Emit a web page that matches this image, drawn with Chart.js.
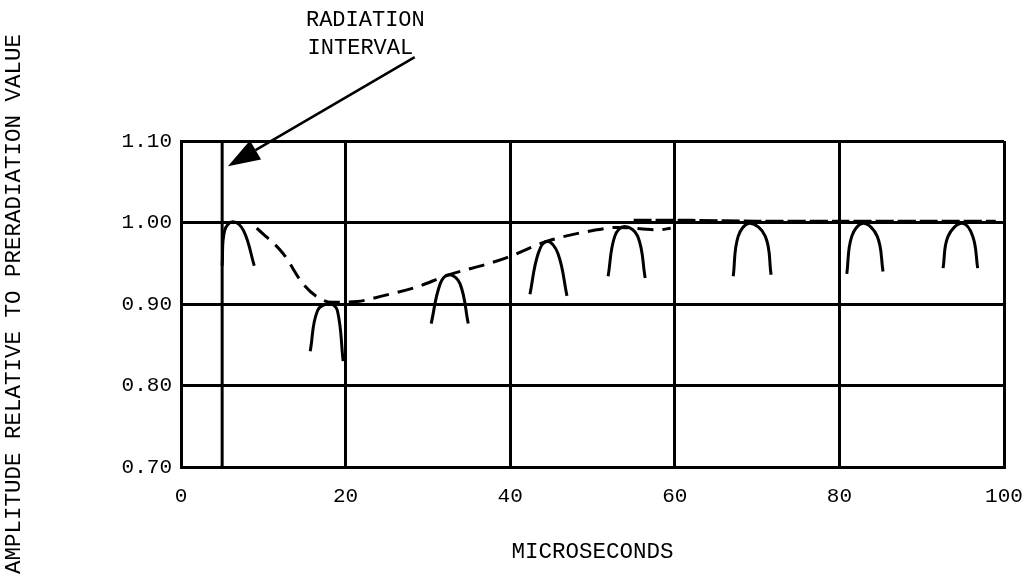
<!DOCTYPE html>
<html>
<head>
<meta charset="utf-8">
<script src="https://cdn.jsdelivr.net/npm/chart.js@4.4.1/dist/chart.umd.min.js"></script>
<style>
  html, body { margin: 0; padding: 0; background: #fff; }
  #chart { display: block; }
</style>
</head>
<body>
<canvas id="chart" width="1028" height="586"></canvas>
<script>
// axis ticks
const xTickValues = [0, 20, 40, 60, 80, 100];
const yTickLabels = ['0.70', '0.80', '0.90', '1.00', '1.10'];

// radiation interval marker (microseconds)
const radiationX = [5, 5];
const radiationY = [0.70, 1.10];

// dashed envelope through the pulse peaks
const envelopeX = [9.2, 12.4, 14.8, 16.5, 18.3, 21.4, 24.5, 28.7, 32.3, 37.5, 39.6, 44.5, 50.5, 53, 58, 59.5];
const envelopeY = [0.993, 0.962, 0.925, 0.909, 0.902, 0.903, 0.910, 0.921, 0.935, 0.950, 0.957, 0.977, 0.991, 0.994, 0.991, 0.993];

// dashed recovery line riding on 1.00
const recoveryX = [55, 62, 70, 80, 90, 99];
const recoveryY = [1.002, 1.002, 1.001, 1.001, 1.001, 1.001];

// pulse shapes (left foot, left shoulder, peak, right shoulder, right foot)
const pulseX = [
  [5.0, 5.3, 6.3, 7.6, 8.9],
  [15.7, 16.6, 18.1, 19.0, 19.7],
  [30.4, 31.5, 32.6, 33.9, 34.9],
  [42.4, 43.4, 44.5, 45.8, 46.9],
  [51.9, 52.7, 53.9, 55.5, 56.4],
  [67.1, 67.7, 69.1, 71.0, 71.7],
  [80.9, 81.5, 82.9, 84.6, 85.3],
  [92.6, 93.2, 94.9, 96.2, 96.8]
];
const pulseY = [
  [0.947, 0.990, 1.001, 0.990, 0.947],
  [0.842, 0.892, 0.900, 0.892, 0.830],
  [0.876, 0.925, 0.936, 0.925, 0.876],
  [0.912, 0.962, 0.977, 0.962, 0.910],
  [0.934, 0.983, 0.995, 0.983, 0.932],
  [0.934, 0.983, 0.999, 0.983, 0.936],
  [0.937, 0.983, 0.999, 0.983, 0.940],
  [0.944, 0.983, 0.999, 0.983, 0.944]
];

const FONT = "'Liberation Mono', 'DejaVu Sans Mono', monospace";
const toPoints = (xs, ys) => xs.map((x, i) => ({ x, y: ys[i] }));

const datasets = [
  {
    label: 'radiation',
    data: toPoints(radiationX, radiationY),
    borderColor: '#000',
    borderWidth: 3,
    pointRadius: 0,
    tension: 0
  },
  {
    label: 'envelope',
    data: toPoints(envelopeX, envelopeY),
    borderColor: '#000',
    borderWidth: 3,
    borderDash: [16, 9],
    pointRadius: 0,
    cubicInterpolationMode: 'monotone'
  },
  {
    label: 'recovery',
    data: toPoints(recoveryX, recoveryY),
    borderColor: '#000',
    borderWidth: 4,
    borderDash: [18, 4],
    pointRadius: 0,
    tension: 0.3
  }
];

pulseX.forEach((xs, i) => {
  datasets.push({
    label: 'pulse' + (i + 1),
    data: toPoints(xs, pulseY[i]),
    borderColor: '#000',
    borderWidth: 3,
    pointRadius: 0,
    tension: 0.4
  });
});

// arrow + "RADIATION INTERVAL" note, placed in data units
const notePlugin = {
  id: 'note',
  afterDraw(chart) {
    const { ctx, scales: { x, y } } = chart;
    const tx = x.getPixelForValue(28.4), ty = y.getPixelForValue(1.203);
    const hx = x.getPixelForValue(5.7), hy = y.getPixelForValue(1.069);
    ctx.save();
    ctx.strokeStyle = '#000';
    ctx.fillStyle = '#000';
    ctx.lineWidth = 2.5;
    const ang = Math.atan2(hy - ty, hx - tx);
    const headLen = 32, headW = 11;
    const bx = hx - headLen * Math.cos(ang), by = hy - headLen * Math.sin(ang);
    ctx.beginPath();
    ctx.moveTo(tx, ty);
    ctx.lineTo(bx, by);
    ctx.stroke();
    ctx.beginPath();
    ctx.moveTo(hx, hy);
    ctx.lineTo(bx + headW * Math.sin(ang), by - headW * Math.cos(ang));
    ctx.lineTo(bx - headW * Math.sin(ang), by + headW * Math.cos(ang));
    ctx.closePath();
    ctx.fill();

    ctx.font = '22px ' + FONT;
    ctx.textAlign = 'center';
    ctx.textBaseline = 'middle';
    ctx.fillText('RADIATION', x.getPixelForValue(22.4), y.getPixelForValue(1.248));
    ctx.fillText('INTERVAL', x.getPixelForValue(21.8), y.getPixelForValue(1.214));
    ctx.restore();
  }
};

new Chart(document.getElementById('chart'), {
  type: 'line',
  data: { datasets },
  options: {
    responsive: false,
    animation: false,
    layout: { padding: { left: 0, right: 24, top: 141, bottom: 0 } },
    plugins: {
      legend: { display: false },
      tooltip: { enabled: false }
    },
    scales: {
      x: {
        type: 'linear',
        min: 0,
        max: 100,
        afterBuildTicks: (axis) => { axis.ticks = xTickValues.map(v => ({ value: v })); },
        afterFit: (axis) => { axis.height = 586 - 467; },
        grid: { color: '#000', lineWidth: 3, drawTicks: false },
        border: { color: '#000', width: 3 },
        ticks: {
          color: '#000',
          padding: 2,
          maxRotation: 0,
          font: { family: FONT, size: 21, lineHeight: 2.62 }
        },
        title: {
          display: true,
          text: 'MICROSECONDS',
          color: '#000',
          font: { family: FONT, size: 22.5 },
          padding: { top: 0, bottom: 20 }
        }
      },
      y: {
        type: 'linear',
        min: 0.70,
        max: 1.10,
        afterBuildTicks: (axis) => {
          axis.ticks = yTickLabels.map(t => ({ value: parseFloat(t) }));
        },
        afterFit: (axis) => { axis.width = 181; },
        grid: { color: '#000', lineWidth: 3, drawTicks: false },
        border: { color: '#000', width: 3 },
        ticks: {
          color: '#000',
          padding: 9,
          font: { family: FONT, size: 21 },
          callback: (v, i) => yTickLabels[i]
        },
        title: {
          display: true,
          text: 'AMPLITUDE RELATIVE TO PRERADIATION VALUE',
          color: '#000',
          font: { family: FONT, size: 22.5 },
          padding: { top: 1, bottom: 0 }
        }
      }
    }
  },
  plugins: [notePlugin]
});
</script>
</body>
</html>
